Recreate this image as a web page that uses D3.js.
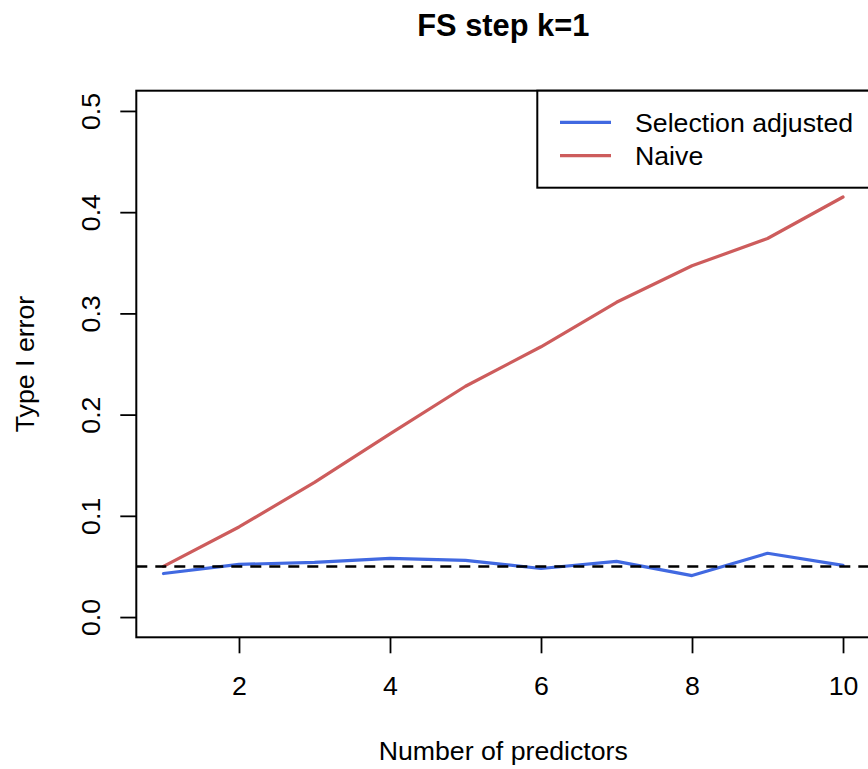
<!DOCTYPE html>
<html>
<head>
<meta charset="utf-8">
<script src="https://cdn.jsdelivr.net/npm/d3@7"></script>
<style>
  body { margin: 0; background: #fff; }
  svg { display: block; }
  text { font-family: "Liberation Sans", Arial, Helvetica, sans-serif; fill: #000; }
</style>
</head>
<body>
<script>
// ---- data ----
const predictors = [1, 2, 3, 4, 5, 6, 7, 8, 9, 10];
const selectionAdjusted = [0.043, 0.052, 0.054, 0.058, 0.056, 0.048, 0.055, 0.041, 0.063, 0.051];
const naive = [0.050, 0.089, 0.133, 0.181, 0.228, 0.267, 0.311, 0.347, 0.374, 0.415];
const nominalLevel = 0.05;
const xTicks = [2, 4, 6, 8, 10];
const yTicks = [0.0, 0.1, 0.2, 0.3, 0.4, 0.5];
const seriesNames = ["Selection adjusted", "Naive"];
const seriesColors = ["#4169E1", "#CD5C5C"];
const titleText = "FS step k=1";
const xLabel = "Number of predictors";
const yLabel = "Type I error";

(function () {
// ---- layout ----
const W = 868, H = 769;
const pL = 136.3, pR = 870.2, pT = 90.7, pB = 637.3;
const fs = 26.7;

const svg = d3.select("body").append("svg").attr("width", W).attr("height", H);

const x = d3.scaleLinear().domain([0.64, 10.36]).range([pL, pR]);
const y = d3.scaleLinear().domain([-0.02, 0.52]).range([pB, pT]);

svg.append("defs").append("clipPath").attr("id", "plotclip")
  .append("rect").attr("x", pL).attr("y", pT).attr("width", pR - pL).attr("height", pB - pT);

const plot = svg.append("g").attr("clip-path", "url(#plotclip)");

const line = d3.line().x((d, i) => x(predictors[i])).y(d => y(d));

plot.append("path").datum(naive)
  .attr("d", line).attr("fill", "none").attr("stroke", seriesColors[1])
  .attr("stroke-width", 3.2).attr("stroke-linejoin", "round").attr("stroke-linecap", "round");

plot.append("path").datum(selectionAdjusted)
  .attr("d", line).attr("fill", "none").attr("stroke", seriesColors[0])
  .attr("stroke-width", 3.2).attr("stroke-linejoin", "round").attr("stroke-linecap", "round");

plot.append("line")
  .attr("x1", pL).attr("x2", pR)
  .attr("y1", y(nominalLevel)).attr("y2", y(nominalLevel))
  .attr("stroke", "#000").attr("stroke-width", 2.4).attr("stroke-dasharray", "11,8");

// ---- axes ----
const xAxis = svg.append("g").attr("transform", `translate(0,${pB})`)
  .call(d3.axisBottom(x).tickValues(xTicks).tickSize(16).tickFormat(d3.format("d")));
xAxis.select(".domain").remove();
xAxis.selectAll(".tick line").attr("stroke", "#000").attr("stroke-width", 1.8);
xAxis.selectAll(".tick text").attr("y", 58).attr("dy", null)
  .attr("font-size", fs).attr("font-family", "Liberation Sans, Arial, sans-serif").attr("fill", "#000");

const yAxis = svg.append("g").attr("transform", `translate(${pL},0)`)
  .call(d3.axisLeft(y).tickValues(yTicks).tickSize(16).tickFormat(d3.format(".1f")));
yAxis.select(".domain").remove();
yAxis.selectAll(".tick line").attr("stroke", "#000").attr("stroke-width", 1.8);
yAxis.selectAll(".tick text")
  .attr("x", null).attr("dy", null).attr("y", null)
  .attr("transform", `translate(${100 - pL},0) rotate(-90)`)
  .attr("text-anchor", "middle")
  .attr("font-size", fs).attr("font-family", "Liberation Sans, Arial, sans-serif").attr("fill", "#000");

// plot box
svg.append("rect").attr("x", pL).attr("y", pT).attr("width", pR - pL).attr("height", pB - pT)
  .attr("fill", "none").attr("stroke", "#000").attr("stroke-width", 2);

// ---- titles ----
svg.append("text").attr("x", (pL + pR) / 2).attr("y", 36).attr("text-anchor", "middle")
  .attr("font-size", 30.8).attr("font-weight", "bold").text(titleText);

svg.append("text").attr("x", (pL + pR) / 2).attr("y", 760).attr("text-anchor", "middle")
  .attr("font-size", fs).text(xLabel);

svg.append("text").attr("transform", `translate(34,${(pT + pB) / 2}) rotate(-90)`)
  .attr("text-anchor", "middle").attr("font-size", fs).text(yLabel);

// ---- legend ----
const lg = svg.append("g");
lg.append("rect").attr("x", 537.3).attr("y", pT).attr("width", pR - 537.3).attr("height", 187.7 - pT)
  .attr("fill", "#fff").attr("stroke", "#000").attr("stroke-width", 2);
const legendRowY = [122.3, 155.7];
seriesNames.forEach((name, i) => {
  lg.append("line").attr("x1", 560).attr("x2", 611)
    .attr("y1", legendRowY[i]).attr("y2", legendRowY[i])
    .attr("stroke", seriesColors[i]).attr("stroke-width", 3.2);
  lg.append("text").attr("x", 635).attr("y", legendRowY[i] + 9.5)
    .attr("font-size", fs).text(name);
});
})();
</script>
</body>
</html>
